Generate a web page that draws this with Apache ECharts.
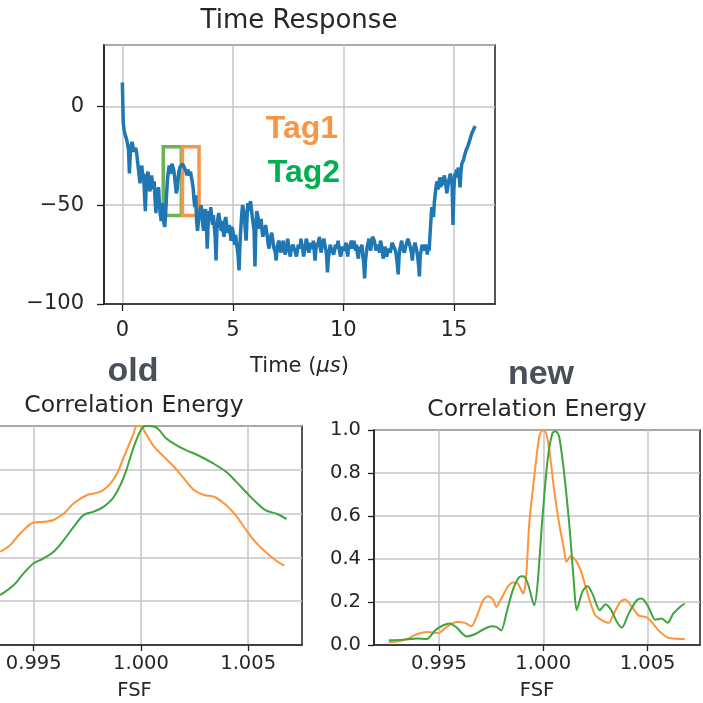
<!DOCTYPE html>
<html>
<head>
<meta charset="utf-8">
<script src="https://cdn.jsdelivr.net/npm/echarts@6/dist/echarts.min.js"></script>
<style>
html,body{margin:0;padding:0;background:#fff}
#chart{width:703px;height:703px}
</style>
</head>
<body>
<div id="chart"></div>
<script>
// time response, sampled every dt microseconds from t = 0
const dt = 0.04
const timeResp = [
  12, -8, -12, -14, -15, -17, -18, -22, -34, -24, -20, -18, -19, -23, -24, -21, -23, -27, -28, -26,
  -39, -33, -30, -36, -34, -44, -53, -40, -35, -33, -38, -43, -41, -35, -36, -42, -38, -47, -54, -44,
  -45, -41, -50, -55, -58, -49, -52, -59, -61, -54, -45, -37, -33, -30, -31, -34, -29, -28, -32, -35,
  -36, -44, -42, -37, -33, -31, -30, -32, -29, -28, -31, -30, -33, -35, -32, -31, -35, -33, -34, -38,
  -41, -47, -51, -45, -58, -63, -62, -55, -56, -50, -53, -60, -63, -55, -52, -58, -72, -60, -53, -57,
  -51, -56, -60, -55, -61, -66, -78, -62, -57, -54, -55, -61, -63, -58, -63, -66, -58, -56, -60, -64,
  -65, -60, -64, -68, -61, -63, -66, -70, -65, -69, -72, -76, -83, -70, -62, -55, -50, -52, -55, -62,
  -68, -57, -49, -53, -50, -48, -52, -56, -57, -63, -81, -62, -53, -55, -58, -62, -60, -57, -63, -66,
  -62, -65, -60, -63, -66, -70, -72, -67, -68, -64, -67, -71, -70, -74, -78, -71, -72, -68, -70, -74,
  -74, -70, -68, -72, -75, -73, -71, -67, -70, -74, -76, -72, -73, -70, -69, -73, -72, -76, -73, -70,
  -70, -72, -67, -70, -72, -76, -75, -71, -67, -69, -70, -74, -72, -69, -69, -72, -68, -73, -78, -72,
  -69, -71, -68, -66, -72, -74, -70, -71, -67, -70, -72, -75, -84, -77, -74, -70, -70, -73, -72, -75,
  -73, -70, -69, -72, -68, -71, -74, -76, -75, -71, -70, -73, -71, -69, -73, -76, -70, -72, -72, -68,
  -69, -72, -68, -71, -73, -70, -75, -77, -71, -74, -72, -70, -76, -79, -87, -78, -74, -71, -70, -67,
  -71, -73, -68, -66, -65, -68, -69, -73, -72, -70, -70, -74, -68, -70, -73, -77, -75, -71, -72, -76,
  -75, -72, -71, -74, -72, -69, -68, -71, -70, -73, -76, -80, -85, -76, -72, -70, -68, -72, -71, -74,
  -73, -70, -70, -67, -67, -70, -72, -74, -78, -73, -72, -69, -70, -73, -76, -80, -86, -75, -73, -70,
  -71, -73, -74, -70, -72, -75, -70, -73, -65, -58, -51, -54, -56, -48, -44, -40, -38, -42, -40, -36,
  -41, -38, -36, -40, -35, -37, -40, -44, -43, -38, -37, -34, -35, -40, -60, -42, -34, -36, -32, -34,
  -31, -30, -41, -33, -29, -28, -27, -25, -24, -22, -21, -20, -19, -17, -16, -14, -13, -12, -11, -10
]
const timeTicks = [0, 5, 10, 15]
const tag1Box = [[2.72, -20.5], [3.47, -55.3]]
const tag2Box = [[1.85, -20.5], [2.67, -55.3]]

// correlation energy, old method
const oldX1 = [0.99344, 0.99391, 0.99438, 0.99500, 0.99547, 0.99593, 0.99640, 0.99687, 0.99749, 0.99812, 0.99858, 0.99889, 0.99921, 0.99960, 0.99983, 1.00000, 1.00014, 1.00061, 1.00107, 1.00154, 1.00200, 1.00247, 1.00294, 1.00340, 1.00387, 1.00435, 1.00485, 1.00532, 1.00580, 1.00626, 1.00668]
const oldY1 = [0.426, 0.457, 0.510, 0.559, 0.563, 0.571, 0.600, 0.647, 0.685, 0.700, 0.738, 0.784, 0.860, 0.951, 1.000, 1.000, 0.980, 0.906, 0.860, 0.814, 0.761, 0.708, 0.685, 0.677, 0.647, 0.601, 0.533, 0.472, 0.426, 0.388, 0.362]
const oldX2 = [0.99344, 0.99407, 0.99453, 0.99500, 0.99547, 0.99593, 0.99640, 0.99687, 0.99734, 0.99780, 0.99827, 0.99874, 0.99921, 0.99967, 1.00000, 1.00023, 1.00070, 1.00117, 1.00164, 1.00210, 1.00273, 1.00335, 1.00397, 1.00444, 1.00495, 1.00542, 1.00580, 1.00636, 1.00679]
const oldY2 = [0.228, 0.274, 0.327, 0.373, 0.396, 0.426, 0.479, 0.540, 0.594, 0.609, 0.632, 0.677, 0.769, 0.906, 0.982, 1.000, 0.994, 0.944, 0.913, 0.890, 0.863, 0.830, 0.791, 0.746, 0.693, 0.647, 0.616, 0.598, 0.575]

// correlation energy, new method
const newX1 = [0.99260, 0.99300, 0.99347, 0.99395, 0.99442, 0.99498, 0.99537, 0.99585, 0.99624, 0.99656, 0.99680, 0.99712, 0.99735, 0.99759, 0.99775, 0.99799, 0.99830, 0.99854, 0.99878, 0.99894, 0.99905, 0.99918, 0.99933, 0.99957, 0.99981, 0.99997, 1.00013, 1.00029, 1.00052, 1.00076, 1.00100, 1.00111, 1.00132, 1.00155, 1.00179, 1.00203, 1.00227, 1.00250, 1.00282, 1.00314, 1.00338, 1.00369, 1.00393, 1.00425, 1.00456, 1.00496, 1.00520, 1.00552, 1.00591, 1.00623, 1.00655, 1.00678]
const newY1 = [0.014, 0.016, 0.028, 0.050, 0.061, 0.056, 0.084, 0.107, 0.103, 0.087, 0.131, 0.208, 0.227, 0.212, 0.177, 0.216, 0.271, 0.291, 0.286, 0.255, 0.240, 0.317, 0.566, 0.784, 0.970, 1.000, 0.986, 0.908, 0.722, 0.566, 0.442, 0.387, 0.414, 0.395, 0.348, 0.271, 0.193, 0.138, 0.115, 0.103, 0.146, 0.201, 0.212, 0.177, 0.138, 0.128, 0.107, 0.068, 0.037, 0.030, 0.028, 0.028]
const newX2 = [0.99260, 0.99331, 0.99395, 0.99442, 0.99482, 0.99521, 0.99553, 0.99585, 0.99632, 0.99672, 0.99712, 0.99751, 0.99775, 0.99799, 0.99823, 0.99854, 0.99886, 0.99905, 0.99926, 0.99957, 0.99973, 0.99994, 1.00021, 1.00044, 1.00060, 1.00076, 1.00100, 1.00127, 1.00147, 1.00160, 1.00187, 1.00211, 1.00235, 1.00271, 1.00298, 1.00326, 1.00353, 1.00377, 1.00409, 1.00448, 1.00472, 1.00504, 1.00536, 1.00567, 1.00596, 1.00623, 1.00655, 1.00678]
const newY2 = [0.022, 0.025, 0.030, 0.028, 0.068, 0.092, 0.100, 0.081, 0.040, 0.050, 0.072, 0.087, 0.084, 0.068, 0.146, 0.255, 0.317, 0.320, 0.286, 0.185, 0.286, 0.566, 0.862, 0.986, 0.994, 0.970, 0.799, 0.535, 0.286, 0.162, 0.247, 0.274, 0.240, 0.162, 0.190, 0.162, 0.107, 0.081, 0.146, 0.208, 0.216, 0.177, 0.118, 0.123, 0.103, 0.146, 0.177, 0.193]
const fsfTicks = [0.995, 1.000, 1.005]

const orange = '#ff9438'
const green = '#3ea53e'
const frame = '#1f1f1f'
const gridGray = '#c6c6c6'
const txt = '#262626'

function pairs(xs, ys) {
  return xs.map((x, i) => [x, ys[i]])
}

function fsfAxis(idx) {
  return {
    gridIndex: idx, type: 'value', min: 0.99189, max: 1.00751,
    axisLine: {show: true, onZero: false, lineStyle: {color: frame, width: 1.5}},
    axisTick: {show: true, customValues: fsfTicks, length: 6, lineStyle: {color: frame, width: 1.3}},
    axisLabel: {customValues: fsfTicks, margin: 9, color: txt, fontSize: 19.5, fontFamily: 'DejaVu Sans',
      formatter: v => v.toFixed(3)},
    splitLine: {show: true, lineStyle: {color: gridGray, width: 1.5}},
    name: 'FSF', nameLocation: 'middle', nameGap: 36,
    nameTextStyle: {color: txt, fontSize: 19.5, fontFamily: 'DejaVu Sans'}
  }
}
function energyAxis(idx) {
  return {
    gridIndex: idx, type: 'value', min: 0, max: 1, interval: 0.2,
    axisLine: {show: true, onZero: false, lineStyle: {color: frame, width: 1.5}},
    axisTick: {show: true, length: 6, lineStyle: {color: frame, width: 1.3}},
    axisLabel: {margin: 13, color: txt, fontSize: 19.5, fontFamily: 'DejaVu Sans',
      formatter: v => v.toFixed(1)},
    splitLine: {show: true, lineStyle: {color: gridGray, width: 1.5}}
  }
}

const chart = echarts.init(document.getElementById('chart'), null, {renderer: 'canvas'})
const option = {
  animation: false,
  backgroundColor: '#fff',
  grid: [
    {left: 104, top: 45, width: 391, height: 259, show: true, borderColor: frame, borderWidth: 1.5, outerBoundsMode: 'none'},
    {left: -33, top: 426, width: 335, height: 219, show: true, borderColor: frame, borderWidth: 1.5, outerBoundsMode: 'none'},
    {left: 374, top: 430, width: 326, height: 215, show: true, borderColor: frame, borderWidth: 1.5, outerBoundsMode: 'none'}
  ],
  xAxis: [
    {
      gridIndex: 0, type: 'value', min: -0.83, max: 16.86,
      axisLine: {show: true, onZero: false, lineStyle: {color: frame, width: 1.5}},
      axisTick: {show: true, customValues: timeTicks, length: 7, lineStyle: {color: frame, width: 1.3}},
      axisLabel: {customValues: timeTicks, margin: 16, color: txt, fontSize: 21, fontFamily: 'DejaVu Sans'},
      splitLine: {show: true, lineStyle: {color: gridGray, width: 1.5}},
      name: '{n|Time (}{i|μs}{n|)}', nameLocation: 'middle', nameGap: 52,
      nameTextStyle: {
        rich: {
          n: {color: txt, fontSize: 21, fontFamily: 'DejaVu Sans'},
          i: {color: txt, fontSize: 21, fontFamily: 'DejaVu Sans', fontStyle: 'italic'}
        }
      }
    },
    fsfAxis(1),
    fsfAxis(2)
  ],
  yAxis: [
    {
      gridIndex: 0, type: 'value', min: -100, max: 31, interval: 50,
      axisLine: {show: true, onZero: false, lineStyle: {color: frame, width: 1.5}},
      axisTick: {show: true, length: 7, lineStyle: {color: frame, width: 1.3}},
      axisLabel: {margin: 20, color: txt, fontSize: 21, fontFamily: 'DejaVu Sans', showMaxLabel: false,
        formatter: v => (v < 0 ? '\u2212' + (-v) : String(v))},
      splitLine: {show: true, lineStyle: {color: gridGray, width: 1.5}}
    },
    energyAxis(1),
    energyAxis(2)
  ],
  series: [
    {
      name: 'time', type: 'line', xAxisIndex: 0, yAxisIndex: 0,
      data: timeResp.map((v, i) => [i * dt, v]),
      showSymbol: false, lineStyle: {color: '#1f77b4', width: 3.5},
      markArea: {
        silent: true,
        label: {show: false},
        itemStyle: {color: 'rgba(0,0,0,0)', borderWidth: 3.5},
        data: [
          [{coord: tag2Box[0], itemStyle: {borderColor: '#6cb252', color: 'rgba(0,0,0,0)'}}, {coord: tag2Box[1]}],
          [{coord: tag1Box[0], itemStyle: {borderColor: '#f79646', color: 'rgba(0,0,0,0)'}}, {coord: tag1Box[1]}]
        ]
      }
    },
    {name: 'old1', type: 'line', xAxisIndex: 1, yAxisIndex: 1, data: pairs(oldX1, oldY1),
      smooth: 0.35, showSymbol: false, lineStyle: {color: orange, width: 2}},
    {name: 'old2', type: 'line', xAxisIndex: 1, yAxisIndex: 1, data: pairs(oldX2, oldY2),
      smooth: 0.35, showSymbol: false, lineStyle: {color: green, width: 2}},
    {name: 'new1', type: 'line', xAxisIndex: 2, yAxisIndex: 2, data: pairs(newX1, newY1),
      smooth: 0.25, showSymbol: false, lineStyle: {color: orange, width: 2}},
    {name: 'new2', type: 'line', xAxisIndex: 2, yAxisIndex: 2, data: pairs(newX2, newY2),
      smooth: 0.25, showSymbol: false, lineStyle: {color: green, width: 2}}
  ],
  graphic: [
    {type: 'text', x: 299, y: 21, style: {text: 'Time Response', fill: txt, font: '26px "DejaVu Sans"', align: 'center', verticalAlign: 'middle'}},
    {type: 'text', x: 302, y: 129, style: {text: 'Tag1', fill: '#f79646', font: 'bold 32px "Liberation Sans"', align: 'center', verticalAlign: 'middle'}},
    {type: 'text', x: 304, y: 173, style: {text: 'Tag2', fill: '#00b050', font: 'bold 32px "Liberation Sans"', align: 'center', verticalAlign: 'middle'}},
    {type: 'text', x: 133, y: 372, style: {text: 'old', fill: '#4a5059', font: 'bold 34px "Liberation Sans"', align: 'center', verticalAlign: 'middle'}},
    {type: 'text', x: 541, y: 375, style: {text: 'new', fill: '#4a5059', font: 'bold 34px "Liberation Sans"', align: 'center', verticalAlign: 'middle'}},
    {type: 'text', x: 134, y: 406, style: {text: 'Correlation Energy', fill: txt, font: '23.5px "DejaVu Sans"', align: 'center', verticalAlign: 'middle'}},
    {type: 'text', x: 537, y: 410, style: {text: 'Correlation Energy', fill: txt, font: '23.5px "DejaVu Sans"', align: 'center', verticalAlign: 'middle'}}
  ]
}
chart.setOption(option)
</script>
</body>
</html>
